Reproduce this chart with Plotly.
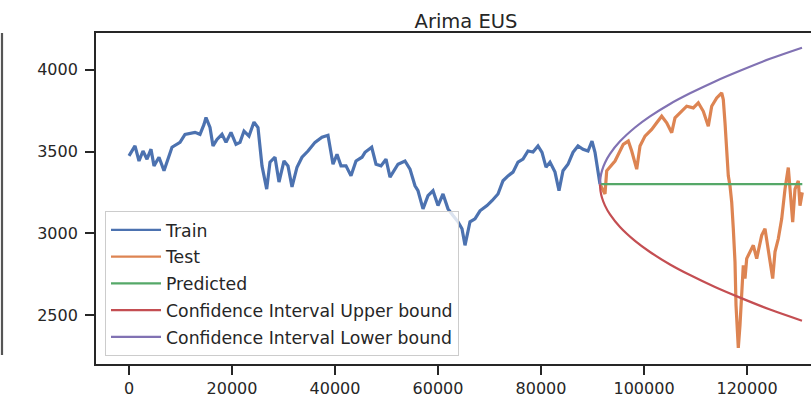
import plotly.graph_objects as go

# ---- Training history (index, price) ----
train_x = [0, 1165, 1942, 2718, 3495, 4272, 4854, 5825, 6796, 7573, 8349, 9903, 10873,
           12815, 13786, 14563, 14951, 15728, 16310, 17087, 18058, 18834, 19805, 20776,
           21553, 22330, 23300, 24271, 25048, 25825, 26737, 27378, 28349, 29126, 30096,
           30873, 31650, 32621, 33591, 34756, 36116, 37475, 38640, 39611, 40387, 41164,
           42135, 43106, 44077, 45242, 45824, 47125, 47960, 48931, 49902, 50678, 51649,
           52232, 53591, 54562, 55533, 56115, 57086, 58057, 59028, 59999, 60969, 61940,
           62911, 63882, 64659, 65241, 66212, 67183, 68154, 69513, 70484, 71649, 72620,
           73590, 74561, 75532, 76503, 77474, 78445, 79416, 80192, 80969, 81746, 82716,
           83493, 84270, 85241, 86212, 87183, 88154, 89125, 89901, 90484, 91066, 91454]
train_y = [3473, 3534, 3442, 3503, 3453, 3514, 3412, 3465, 3382, 3453, 3526, 3556, 3605,
           3617, 3605, 3666, 3708, 3647, 3534, 3574, 3605, 3556, 3617, 3544,
           3556, 3625, 3594, 3680, 3647, 3412, 3270, 3435, 3465, 3313, 3442,
           3412, 3283, 3404, 3465, 3503, 3556, 3587, 3599, 3422, 3483, 3412,
           3412, 3351, 3442, 3465, 3495, 3526, 3422, 3412, 3453, 3343, 3392,
           3422, 3442, 3392, 3290, 3260, 3149, 3230, 3260, 3169, 3240, 3149,
           3108, 3070, 3027, 2926, 3070, 3088, 3137, 3169, 3199, 3240, 3321,
           3351, 3374, 3435, 3453, 3503, 3497, 3534, 3495, 3404, 3435, 3374,
           3260, 3382, 3422, 3495, 3534, 3514, 3503, 3564, 3495, 3374, 3299]

# ---- Hold-out test period ----
test_x = [91454, 92425, 92755, 93396, 94367, 95337, 95978, 96949, 97609, 98580, 99220,
          100191, 101492, 102463, 103434, 104405, 105376, 106017, 106988, 108288, 109570,
          110541, 111511, 112482, 113143, 114114, 115085, 115396, 115726, 116056, 116367,
          116697, 117027, 117338, 117668, 117862, 118114, 118308, 118639, 118969, 119279,
          119609, 119939, 120580, 121221, 121881, 122852, 123493, 124133, 124988, 125434,
          126075, 126735, 127376, 128016, 128346, 128870, 129317, 129957, 130287, 130734]
test_y = [3299, 3240, 3382, 3404, 3442, 3503, 3544, 3564, 3503, 3392, 3534,
          3594, 3635, 3676, 3716, 3676, 3615, 3706, 3737, 3777, 3767,
          3798, 3746, 3655, 3777, 3828, 3858, 3818, 3676, 3514, 3351,
          3290, 3190, 3027, 2825, 2561, 2338, 2298, 2439, 2682, 2804,
          2723, 2845, 2886, 2926, 2845, 2987, 3027, 2886, 2723, 2886,
          2966, 3088, 3270, 3402, 3290, 3068, 3270, 3321, 3169, 3250]

# ---- ARIMA forecast and its confidence band ----
pred_x = [91454, 130734]
pred_y = [3300, 3300]

ci_x = [91454, 91550, 91842, 92425, 93396, 95337, 98250, 101163, 105046, 108930,
        113784, 118638, 124463, 130675]
ci_upper = [3300, 3259, 3217, 3169, 3115, 3038, 2953, 2885, 2809, 2744,
            2671, 2606, 2533, 2465]
ci_lower = [3300, 3341, 3383, 3431, 3485, 3562, 3647, 3715, 3791, 3856,
            3929, 3994, 4067, 4135]

x_ticks = [0, 20000, 40000, 60000, 80000, 100000, 120000]
y_ticks = [2500, 3000, 3500, 4000]

BLUE, ORANGE, GREEN, RED, PURPLE = "#4C72B0", "#DD8452", "#55A868", "#C44E52", "#8172B3"
INK = "#262626"
FONT = "DejaVu Sans"

fig = go.Figure()
series = [
    ("Train", train_x, train_y, BLUE, 3.2, "linear"),
    ("Test", test_x, test_y, ORANGE, 3.2, "linear"),
    ("Predicted", pred_x, pred_y, GREEN, 2.2, "linear"),
    ("Confidence Interval Upper bound", ci_x, ci_upper, RED, 2.2, "spline"),
    ("Confidence Interval Lower bound", ci_x, ci_lower, PURPLE, 2.2, "spline"),
]
for name, xs, ys, color, w, shape in series:
    fig.add_trace(go.Scatter(
        x=xs, y=ys, mode="lines", name=name, legendgroup=name, showlegend=False,
        line=dict(color=color, width=w, shape=shape),
    ))
# legend keys drawn with a uniform line weight
for name, xs, ys, color, w, shape in series:
    fig.add_trace(go.Scatter(
        x=[None], y=[None], mode="lines", name=name, legendgroup=name,
        line=dict(color=color, width=2.2),
    ))

L, T, B = 96, 33, 32
W, H = 811, 398
plot_w, plot_h = W - L, H - T - B

fig.update_layout(
    width=W, height=H,
    margin=dict(l=L, r=0, t=T, b=B, pad=0),
    paper_bgcolor="white", plot_bgcolor="white",
    font=dict(family=FONT, color=INK, size=16),
    showlegend=True,
    title=dict(text="Arima EUS", x=466 / W, xref="container", xanchor="center",
               y=1 - 21 / H, yref="container", yanchor="middle",
               font=dict(family=FONT, size=19.5, color=INK)),
    legend=dict(
        x=(105 - L) / plot_w, y=(H - B - 358) / plot_h,
        xanchor="left", yanchor="bottom",
        bgcolor="rgba(255,255,255,0.8)", bordercolor="#cccccc", borderwidth=1,
        font=dict(family=FONT, size=17.3, color=INK),
        tracegroupgap=1.3, itemwidth=50,
    ),
    xaxis=dict(
        range=[-6408, 132424], tickvals=x_ticks, ticktext=[str(v) for v in x_ticks],
        showgrid=False, zeroline=False, showline=True, linecolor=INK, linewidth=1.8,
        mirror=True, ticks="outside", ticklen=9, tickwidth=1.6, tickcolor=INK,
        tickfont=dict(family=FONT, size=16, color=INK),
    ),
    yaxis=dict(
        range=[2200, 4225], tickvals=y_ticks, ticktext=[str(v) for v in y_ticks],
        showgrid=False, zeroline=False, showline=True, linecolor=INK, linewidth=1.8,
        mirror=False, ticks="outside", ticklen=9, tickwidth=1.6, tickcolor=INK,
        tickfont=dict(family=FONT, size=16, color=INK), ticklabelstandoff=4,
    ),
)

# edge of the neighbouring panel on the left
fig.add_shape(type="line", xref="paper", yref="paper",
              x0=(2 - L) / plot_w, x1=(2 - L) / plot_w,
              y0=(H - B - 357) / plot_h, y1=1,
              line=dict(color="#555555", width=2.2))

fig.write_html("out.html")
